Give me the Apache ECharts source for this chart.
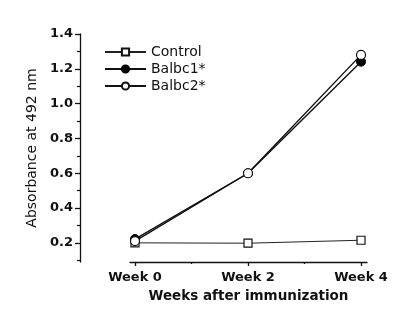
<!DOCTYPE html>
<html>
<head>
<meta charset="utf-8">
<script src="https://cdn.jsdelivr.net/npm/echarts@6/dist/echarts.min.js"></script>
<style>
  html, body { margin: 0; padding: 0; background: #fff; }
  #chart { width: 420px; height: 324px; }
</style>
</head>
<body>
<div id="chart"></div>
<script>
// Weeks after immunization (x positions) and their labels
const weeks = [0, 2, 4];
const weekLabels = ['Week 0', 'Week 2', 'Week 4'];

// Absorbance at 492 nm for each group
const control = [0.20, 0.198, 0.215];
const balbc1 = [0.222, 0.60, 1.241];
const balbc2 = [0.21, 0.60, 1.28];

// Axis tick values
const yMajorTicks = [0.2, 0.4, 0.6, 0.8, 1.0, 1.2, 1.4];
const yMinorTicks = [0.1, 0.3, 0.5, 0.7, 0.9, 1.1, 1.3];
const xMinorTicks = [1, 3];

const pairs = vals => weeks.map((w, i) => [w, vals[i]]);

const boldFont = { fontFamily: 'DejaVu Sans', fontWeight: 'bold', fontSize: 13, color: '#111' };

const chart = echarts.init(document.getElementById('chart'), null, { renderer: 'canvas' });

const yBase = {
  type: 'value', min: 0.09, max: 1.4, offset: 50, position: 'left',
  splitLine: { show: false }
};
const xBase = {
  type: 'value', min: -0.0885, max: 4.106, position: 'bottom',
  splitLine: { show: false }
};

chart.setOption({
  animation: false,
  backgroundColor: '#fff',
  grid: { left: 130, right: 53, top: 34, bottom: 62 },
  legend: {
    left: 99, top: 40, orient: 'vertical',
    itemWidth: 41, itemHeight: 9, itemGap: 3,
    textStyle: { fontFamily: 'DejaVu Sans', fontSize: 14, color: '#111', lineHeight: 14 },
    data: ['Control', 'Balbc1*', 'Balbc2*']
  },
  xAxis: [
    Object.assign({}, xBase, {
      name: 'Weeks after immunization',
      nameLocation: 'middle', nameGap: 27,
      nameTextStyle: Object.assign({}, boldFont, { fontSize: 13.5 }),
      axisLine: { show: true, onZero: false, lineStyle: { color: '#111', width: 1.3 } },
      axisTick: { show: true, length: 4, customValues: weeks, lineStyle: { color: '#111', width: 1.3 } },
      axisLabel: {
        show: true, margin: 9, customValues: weeks,
        formatter: v => weekLabels[weeks.indexOf(v)] || '',
        ...boldFont
      }
    }),
    Object.assign({}, xBase, {
      axisLine: { show: false, onZero: false },
      axisTick: { show: true, length: 2, customValues: xMinorTicks, lineStyle: { color: '#111', width: 1.2 } },
      axisLabel: { show: false }
    })
  ],
  yAxis: [
    Object.assign({}, yBase, {
      name: 'Absorbance at 492 nm',
      nameLocation: 'middle', nameGap: 40, nameRotate: 90,
      nameTextStyle: { fontFamily: 'DejaVu Sans', fontSize: 14, color: '#111' },
      axisLine: { show: true, onZero: false, lineStyle: { color: '#111', width: 1.3 } },
      axisTick: { show: true, length: 5, customValues: yMajorTicks, lineStyle: { color: '#111', width: 1.3 } },
      axisLabel: {
        show: true, margin: 7, customValues: yMajorTicks,
        formatter: v => v.toFixed(1),
        ...boldFont
      }
    }),
    Object.assign({}, yBase, {
      axisLine: { show: false, onZero: false },
      axisTick: { show: true, length: 3, customValues: yMinorTicks, lineStyle: { color: '#111', width: 1.2 } },
      axisLabel: { show: false }
    })
  ],
  series: [
    {
      name: 'Control', type: 'line', data: pairs(control),
      symbol: 'rect', symbolSize: 8,
      lineStyle: { color: '#222', width: 1 },
      itemStyle: { color: '#fff', borderColor: '#111', borderWidth: 1.2 }
    },
    {
      name: 'Balbc1*', type: 'line', data: pairs(balbc1),
      symbol: 'circle', symbolSize: 9,
      lineStyle: { color: '#111', width: 1.4 },
      itemStyle: { color: '#000', borderColor: '#000', borderWidth: 1 }
    },
    {
      name: 'Balbc2*', type: 'line', data: pairs(balbc2),
      symbol: 'circle', symbolSize: 9,
      lineStyle: { color: '#111', width: 1.4 },
      itemStyle: { color: '#fff', borderColor: '#111', borderWidth: 1.2 }
    }
  ]
});
</script>
</body>
</html>
